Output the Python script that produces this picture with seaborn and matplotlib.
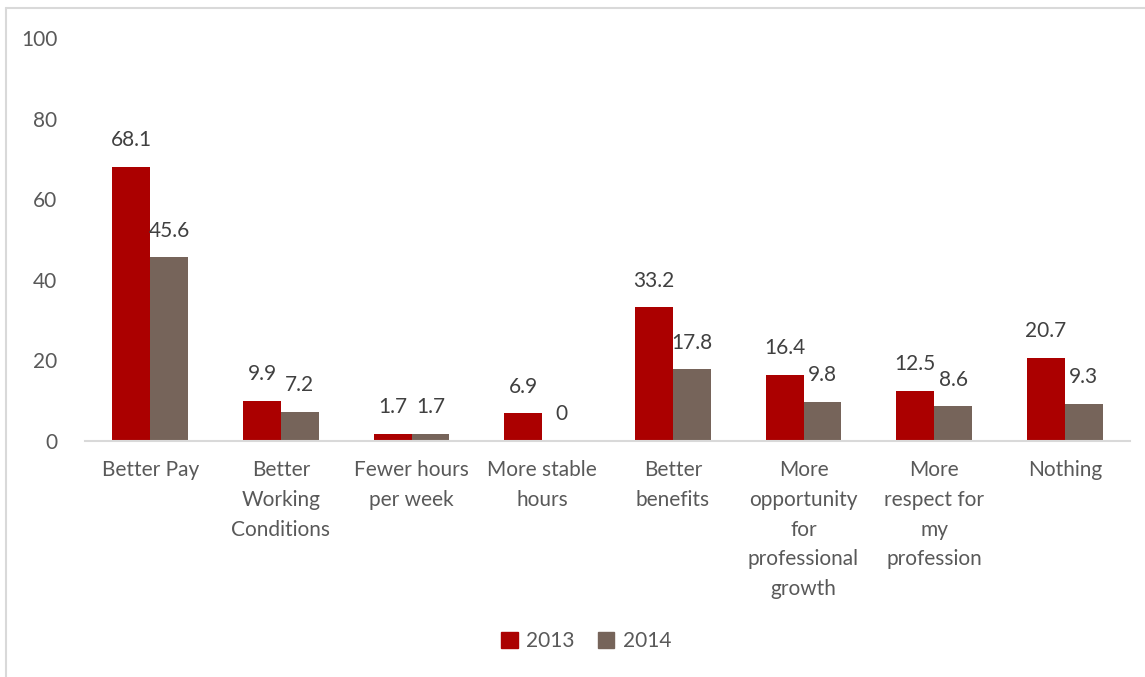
import pandas as pd
import matplotlib
matplotlib.use('Agg')
import matplotlib.pyplot as plt
from matplotlib.lines import Line2D
import seaborn as sns

# Daten aus dem Diagramm
categories = ['Better Pay', 'Better\nWorking\nConditions', 'Fewer hours\nper week',
              'More stable\nhours', 'Better\nbenefits',
              'More\nopportunity\nfor\nprofessional\ngrowth',
              'More\nrespect for\nmy\nprofession', 'Nothing']
values_2013 = [68.1, 9.9, 1.7, 6.9, 33.2, 16.4, 12.5, 20.7]
values_2014 = [45.6, 7.2, 1.7, 0, 17.8, 9.8, 8.6, 9.3]
years = ['2013', '2014']
colors = ['#AB0000', '#76645A']

df = pd.DataFrame({
    'category': categories * 2,
    'value': values_2013 + values_2014,
    'year': [years[0]] * len(categories) + [years[1]] * len(categories),
})

sns.set_style('white')
plt.rcParams['font.family'] = ['Lato', 'DejaVu Sans']

fig = plt.figure(figsize=(11.45, 6.77), dpi=100)
ax = fig.add_axes([0.0742, 0.3486, 0.9128, 0.5953])

sns.barplot(data=df, x='category', y='value', hue='year', palette=colors,
            saturation=1, width=0.58, gap=0, edgecolor='none', linewidth=0,
            ax=ax, legend=False)

for cont in ax.containers:
    ax.bar_label(cont, labels=[f'{v:g}' for v in cont.datavalues],
                 padding=12, fontsize=15, color='#404040')

ax.set_ylim(0, 100)
ax.set_yticks(range(0, 101, 20))
ax.set_xlim(-0.5, len(categories) - 0.5)
ax.set_xlabel('')
ax.set_ylabel('')
ax.tick_params(axis='both', length=0, labelsize=15, labelcolor='#595959')
ax.tick_params(axis='y', pad=20)
ax.tick_params(axis='x', pad=14)
for lbl in ax.get_xticklabels():
    lbl.set_linespacing(1.6)
for s in ['left', 'top', 'right']:
    ax.spines[s].set_visible(False)
ax.spines['bottom'].set_color('#D9D9D9')
ax.spines['bottom'].set_linewidth(1.5)

handles = [plt.Rectangle((0, 0), 1, 1, color=c) for c in colors]
fig.legend(handles, years, loc='center', bbox_to_anchor=(0.512, 0.053), ncol=2,
           frameon=False, fontsize=15, handlelength=0.8, handleheight=0.8,
           handletextpad=0.4, columnspacing=1.1, labelcolor='#595959')

# Rahmen oben und links
fig.add_artist(Line2D([6 / 1145, 1], [1 - 8 / 677, 1 - 8 / 677], color='#D9D9D9', lw=1.5))
fig.add_artist(Line2D([6 / 1145, 6 / 1145], [0, 1 - 8 / 677], color='#D9D9D9', lw=1.5))

fig.savefig('out.png', dpi=100)
